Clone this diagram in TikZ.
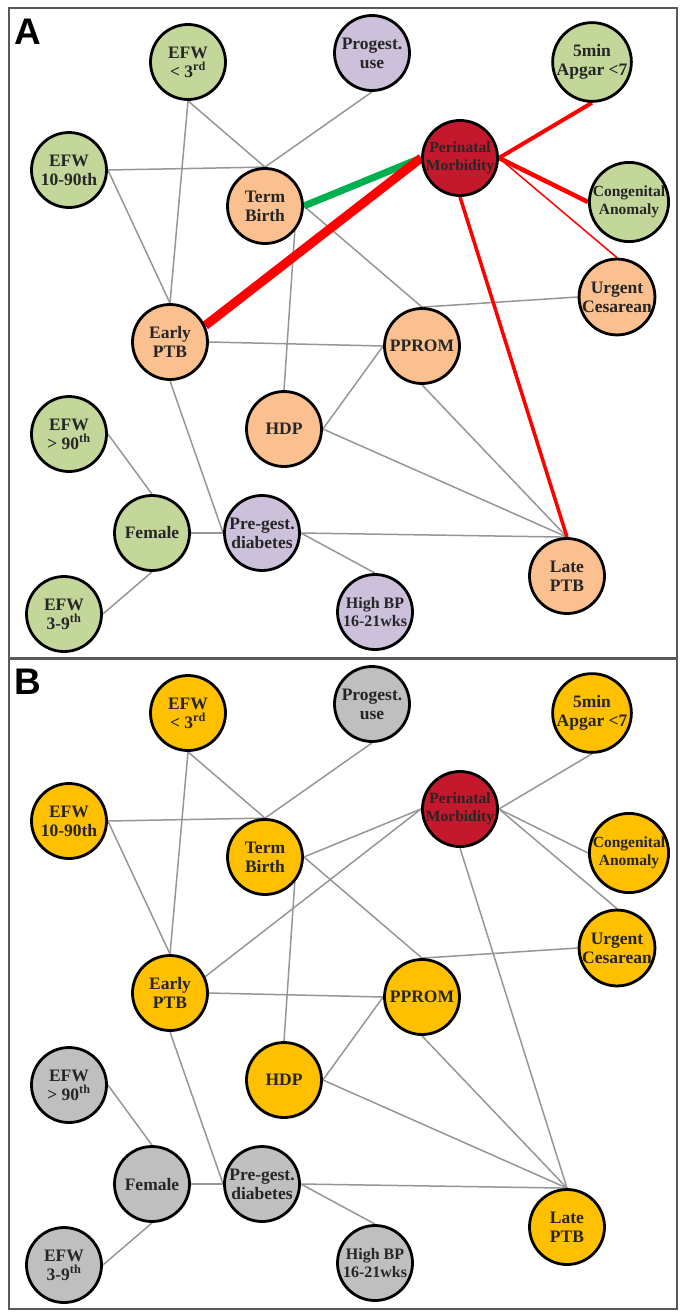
\documentclass[tikz,border=0pt]{standalone}
\usepackage{fontspec}
\setmainfont{Liberation Serif}
\newfontfamily\tagfont{Liberation Sans}
\usetikzlibrary{backgrounds}
\definecolor{leaf}{RGB}{196,215,155}
\definecolor{peach}{RGB}{250,192,144}
\definecolor{lilac}{RGB}{204,192,218}
\definecolor{blood}{RGB}{196,24,44}
\definecolor{amber}{RGB}{255,192,0}
\definecolor{ash}{RGB}{191,191,191}
\definecolor{linkgray}{RGB}{150,150,150}
\definecolor{hotred}{RGB}{255,0,0}
\definecolor{okgreen}{RGB}{0,176,80}
\tikzset{%
	factor/.style = {circle,draw,line width=2.8pt,minimum size=75pt,inner sep=0,align=center,text=black!85,font=\fontsize{17.5}{19}\selectfont\bfseries},
	fine/.style = {font=\fontsize{15.5}{18}\selectfont\bfseries},
	link/.style = {draw=linkgray,line width=1.5pt},
	risk/.style = {draw=hotred},
	guard/.style = {draw=okgreen},
	panel/.style = {draw=black!65,line width=1.2pt},
	tag/.style = {anchor=base west,inner sep=0,font=\tagfont\bfseries\fontsize{37}{37}\selectfont}%
}

\begin{document}
\begin{tikzpicture}[x=1pt,y=-1pt]
\useasboundingbox (0,0) rectangle (685,1314);

% panel A
\draw[panel] (9,8) rectangle (677,658);
\node(A)[tag] at (14,45) {A};
\node(A-efw3)[factor,fill=leaf] at (188,62) {EFW\\< 3\textsuperscript{rd}};
\node(A-efw1090)[factor,fill=leaf] at (69,170) {EFW\\10-90th};
\node(A-term)[factor,fill=peach] at (265,206) {Term\\Birth};
\node(A-prog)[factor,fill=lilac] at (372,53) {Progest.\\use};
\node(A-apgar)[factor,fill=leaf] at (592,62) {5min\\Apgar <7};
\node(A-peri)[factor,fine,fill=blood] at (460,158) {Perinatal\\Morbidity};
\node(A-cong)[factor,fine,fill=leaf] at (629,202) {Congenital\\Anomaly};
\node(A-urg)[factor,fill=peach] at (617,297) {Urgent\\Cesarean};
\node(A-eptb)[factor,fill=peach] at (170,342) {Early\\PTB};
\node(A-pprom)[factor,fill=peach] at (422,346) {PPROM};
\node(A-hdp)[factor,fill=peach] at (284,429) {HDP};
\node(A-efw90)[factor,fill=leaf] at (69,434) {EFW\\> 90\textsuperscript{th}};
\node(A-fem)[factor,fill=leaf] at (152,533) {Female};
\node(A-preg)[factor,fill=lilac] at (262,533) {Pre-gest.\\diabetes};
\node(A-efw39)[factor,fill=leaf] at (64,614) {EFW\\3-9\textsuperscript{th}};
\node(A-hbp)[factor,font=\fontsize{16}{18.5}\selectfont\bfseries,fill=lilac] at (375,612) {High BP\\16-21wks};
\node(A-lptb)[factor,fill=peach] at (567,576) {Late\\PTB};

\begin{scope}[on background layer]
\draw[link] (A-efw3.south) -- (A-term.north);
\draw[link] (A-efw3.south) -- (A-eptb.north);
\draw[link] (A-efw1090.east) -- (A-term.north);
\draw[link] (A-efw1090.east) -- (A-eptb.north);
\draw[link] (A-prog.south) -- (A-term.north);
\draw[link] (A-term.-40) -- (A-hdp.north);
\draw[link] (A-term.east) -- (A-pprom.north);
\draw[link] (A-eptb.east) -- (A-pprom.west);
\draw[link] (A-hdp.east) -- (A-pprom.west);
\draw[link] (A-hdp.east) -- (A-lptb.north);
\draw[link] (A-pprom.south) -- (A-lptb.north);
\draw[link] (A-pprom.north) -- (A-urg.west);
\draw[link] (A-eptb.south) -- (A-preg.west);
\draw[link] (A-efw90.east) -- (A-fem.north);
\draw[link] (A-efw39.east) -- (A-fem.south);
\draw[link] (A-fem.east) -- (A-preg.west);
\draw[link] (A-preg.east) -- (A-lptb.north);
\draw[link] (A-preg.east) -- (A-hbp.north);
\draw[guard,line width=7pt] (A-peri.west) -- (A-term.east);
\draw[risk,line width=9pt] (A-peri.west) -- (A-eptb.25);
\draw[risk,line width=4pt] (A-peri.east) -- (A-apgar.south);
\draw[risk,line width=4.5pt] (A-peri.east) -- (A-cong.west);
\draw[risk,line width=1.5pt] (A-peri.east) -- (A-urg.north);
\draw[risk,line width=3.5pt] (A-peri.south) -- (A-lptb.north);
\end{scope}

% panel B
\begin{scope}[shift={(0,651)}]
\draw[panel] (9,8) rectangle (677,658);
\node(B)[tag] at (14,43) {B};
\node(B-efw3)[factor,fill=amber] at (188,62) {EFW\\< 3\textsuperscript{rd}};
\node(B-efw1090)[factor,fill=amber] at (69,170) {EFW\\10-90th};
\node(B-term)[factor,fill=amber] at (265,206) {Term\\Birth};
\node(B-prog)[factor,fill=ash] at (372,53) {Progest.\\use};
\node(B-apgar)[factor,fill=amber] at (592,62) {5min\\Apgar <7};
\node(B-peri)[factor,fine,fill=blood] at (460,158) {Perinatal\\Morbidity};
\node(B-cong)[factor,fine,fill=amber] at (629,202) {Congenital\\Anomaly};
\node(B-urg)[factor,fill=amber] at (617,297) {Urgent\\Cesarean};
\node(B-eptb)[factor,fill=amber] at (170,342) {Early\\PTB};
\node(B-pprom)[factor,fill=amber] at (422,346) {PPROM};
\node(B-hdp)[factor,fill=amber] at (284,429) {HDP};
\node(B-efw90)[factor,fill=ash] at (69,434) {EFW\\> 90\textsuperscript{th}};
\node(B-fem)[factor,fill=ash] at (152,533) {Female};
\node(B-preg)[factor,fill=ash] at (262,533) {Pre-gest.\\diabetes};
\node(B-efw39)[factor,fill=ash] at (64,614) {EFW\\3-9\textsuperscript{th}};
\node(B-hbp)[factor,font=\fontsize{16}{18.5}\selectfont\bfseries,fill=ash] at (375,612) {High BP\\16-21wks};
\node(B-lptb)[factor,fill=amber] at (567,576) {Late\\PTB};
\end{scope}

\begin{scope}[on background layer]
\draw[link] (B-efw3.south) -- (B-term.north);
\draw[link] (B-efw3.south) -- (B-eptb.north);
\draw[link] (B-efw1090.east) -- (B-term.north);
\draw[link] (B-efw1090.east) -- (B-eptb.north);
\draw[link] (B-prog.south) -- (B-term.north);
\draw[link] (B-term.-40) -- (B-hdp.north);
\draw[link] (B-term.east) -- (B-pprom.north);
\draw[link] (B-eptb.east) -- (B-pprom.west);
\draw[link] (B-hdp.east) -- (B-pprom.west);
\draw[link] (B-hdp.east) -- (B-lptb.north);
\draw[link] (B-pprom.south) -- (B-lptb.north);
\draw[link] (B-pprom.north) -- (B-urg.west);
\draw[link] (B-eptb.south) -- (B-preg.west);
\draw[link] (B-efw90.east) -- (B-fem.north);
\draw[link] (B-efw39.east) -- (B-fem.south);
\draw[link] (B-fem.east) -- (B-preg.west);
\draw[link] (B-preg.east) -- (B-lptb.north);
\draw[link] (B-preg.east) -- (B-hbp.north);
\draw[link] (B-peri.west) -- (B-term.east);
\draw[link] (B-peri.west) -- (B-eptb.25);
\draw[link] (B-peri.east) -- (B-apgar.south);
\draw[link] (B-peri.east) -- (B-cong.west);
\draw[link] (B-peri.east) -- (B-urg.north);
\draw[link] (B-peri.south) -- (B-lptb.north);
\end{scope}
\end{tikzpicture}
\end{document}
